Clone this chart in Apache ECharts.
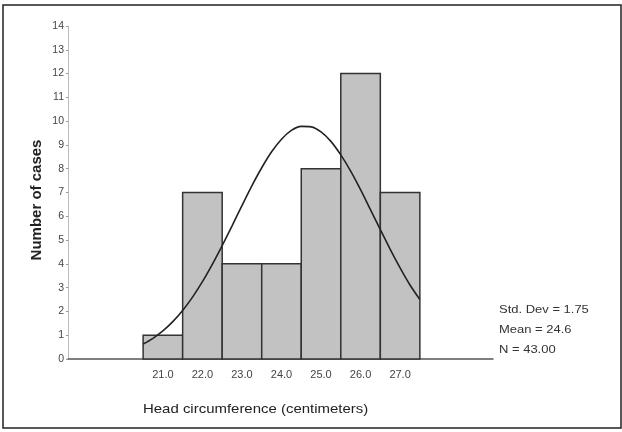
<!DOCTYPE html>
<html>
<head>
<meta charset="utf-8">
<script src="https://cdn.jsdelivr.net/npm/echarts@6/dist/echarts.min.js"></script>
<style>html,body{margin:0;padding:0;background:#fff;}#c{width:622px;height:432px;}</style>
</head>
<body>
<div id="c"></div>
<script>
// Histogram bins (centre of each 1-cm bin) and counts
var binCenters = [21, 22, 23, 24, 25, 26, 27];
var counts = [1, 7, 4, 4, 8, 12, 7];
var xTickLabels = ['21.0', '22.0', '23.0', '24.0', '25.0', '26.0', '27.0'];
var yTicks = [0, 14];
// Fitted normal curve
var curveX = [20.5, 20.75, 21, 21.25, 21.5, 21.75, 22, 22.25, 22.5, 22.75, 23, 23.25, 23.5, 23.75, 24, 24.25, 24.5, 24.75, 25, 25.25, 25.5, 25.75, 26, 26.25, 26.5, 26.75, 27, 27.25, 27.5];
var curveY = [0.63, 0.87, 1.18, 1.57, 2.04, 2.6, 3.25, 3.98, 4.77, 5.6, 6.45, 7.28, 8.04, 8.71, 9.24, 9.61, 9.78, 9.76, 9.55, 9.15, 8.58, 7.9, 7.12, 6.28, 5.44, 4.61, 3.83, 3.11, 2.5];
var statsLines = ['Std. Dev = 1.75', 'Mean = 24.6', 'N = 43.00'];
var xTitle = 'Head circumference (centimeters)';
var yTitle = 'Number of cases';

var chart = echarts.init(document.getElementById('c'), null, {renderer: 'canvas'});
var font = 'Liberation Sans, Arial, sans-serif';

var barData = binCenters.map(function (c, i) { return [c, counts[i]]; });
var curveData = curveX.map(function (x, i) { return [x, curveY[i]]; });

var statsGraphics = statsLines.map(function (t, i) {
  return {
    type: 'text', left: 499, top: 304 + i * 20,
    style: {text: t, font: '11px ' + font, fill: '#333'},
    scaleX: 1.18
  };
});

chart.setOption({
  animation: false,
  grid: {left: 68, top: 26, width: 425, height: 333},
  xAxis: {
    type: 'value', min: 18.6, max: 29.35,
    axisLine: {show: true, onZero: false, lineStyle: {color: '#555', width: 1.5}},
    axisTick: {show: false},
    splitLine: {show: false},
    axisLabel: {
      customValues: binCenters,
      formatter: function (v) { var i = binCenters.indexOf(v); return i >= 0 ? xTickLabels[i] : ''; },
      color: '#444', fontSize: 11, fontFamily: font, margin: 10
    }
  },
  yAxis: {
    type: 'value', min: yTicks[0], max: yTicks[1], interval: 1,
    axisLine: {show: true, lineStyle: {color: '#bbb', width: 1}},
    axisTick: {show: true, length: 2, lineStyle: {color: '#999'}},
    splitLine: {show: false},
    axisLabel: {color: '#444', fontSize: 10.5, fontFamily: font, margin: 4}
  },
  graphic: [
    {type: 'rect', shape: {x: 3, y: 5, width: 618, height: 423}, style: {fill: 'none', stroke: '#222', lineWidth: 1.5}, silent: true, z: 100},
    {type: 'text', left: 143, top: 403, style: {text: xTitle, font: '13px ' + font, fill: '#222'}, scaleX: 1.15},
    {type: 'text', x: 37, y: 200, rotation: Math.PI / 2,
      style: {text: yTitle, font: 'bold 15px ' + font, fill: '#222', align: 'center', verticalAlign: 'middle'}}
  ].concat(statsGraphics),
  series: [
    {
      type: 'custom',
      data: barData,
      renderItem: function (params, api) {
        var c = api.value(0), v = api.value(1);
        var p0 = api.coord([c - 0.5, v]);
        var p1 = api.coord([c + 0.5, 0]);
        return {
          type: 'rect',
          shape: {x: p0[0], y: p0[1], width: p1[0] - p0[0], height: p1[1] - p0[1]},
          style: {fill: '#c2c2c2', stroke: '#333', lineWidth: 1.5}
        };
      },
      z: 2
    },
    {
      type: 'line', data: curveData, smooth: 0.3, showSymbol: false,
      lineStyle: {color: '#222', width: 1.6}, z: 3
    }
  ]
});
</script>
</body>
</html>
